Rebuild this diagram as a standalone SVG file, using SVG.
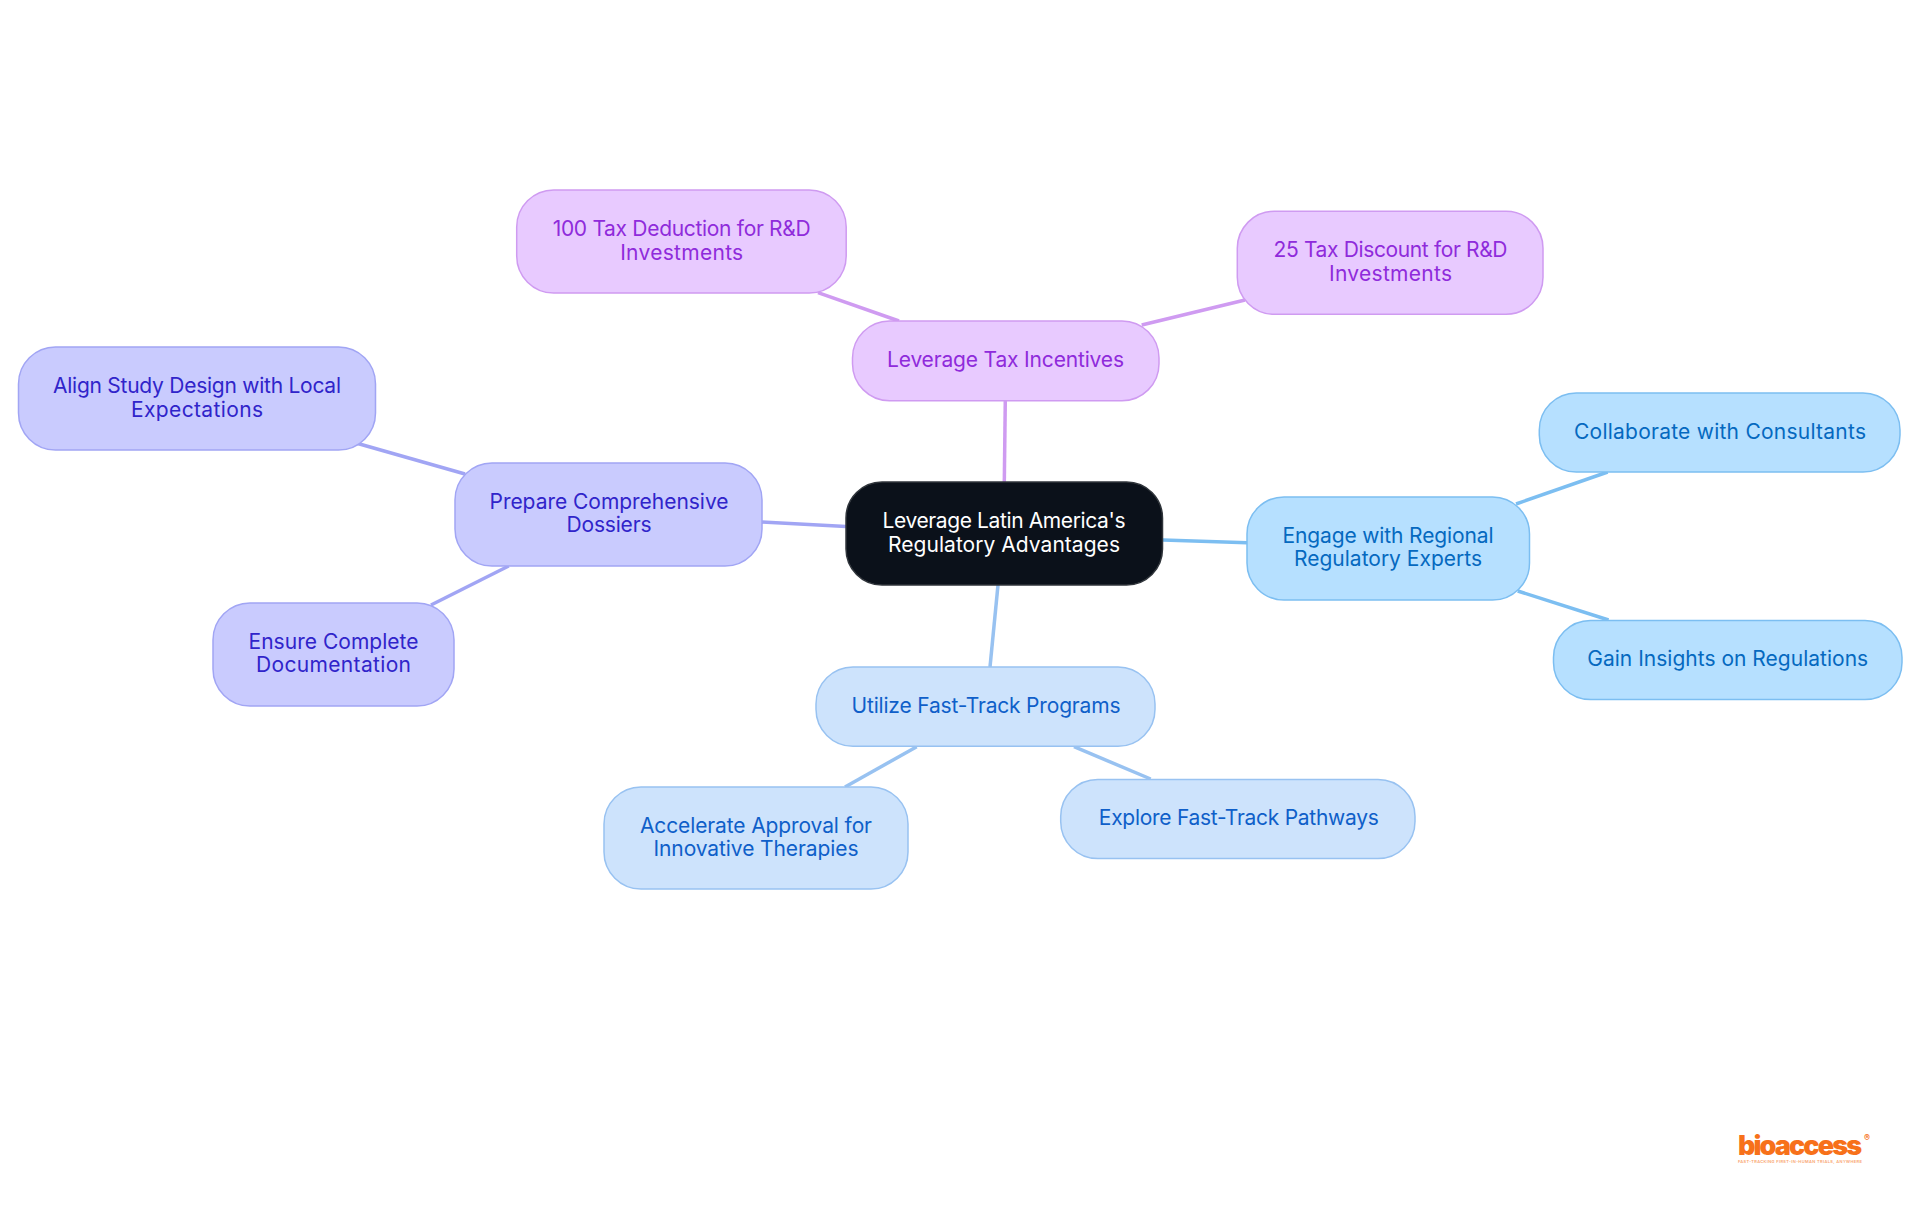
<svg xmlns="http://www.w3.org/2000/svg" width="1920" height="1215" viewBox="0 0 1920 1215">
<style>
text{font-family:"Inter","Noto Sans",sans-serif;font-size:21px;font-weight:380;text-anchor:middle}
rect{stroke-width:1.5}
#connectors line{stroke-width:3.5;fill:none}
.root rect{fill:#0b111a;stroke:#30353b}.root text{fill:#fff}
.tax rect{fill:#e8caff;stroke:#cf9bf1}.tax text{fill:#8f2bdb}
.dos rect{fill:#c9cbfe;stroke:#a1a5f4}.dos text{fill:#3024ca}
.eng rect{fill:#b6e0ff;stroke:#7cbef1}.eng text{fill:#0569bf}
.fast rect{fill:#cde3fc;stroke:#98c2f1}.fast text{fill:#0f5fc9}
.ltax{stroke:#cf9bf1}.ldos{stroke:#a1a5f4}.leng{stroke:#7cbef1}.lfast{stroke:#98c2f1}
</style>
<rect width="1920" height="1215" fill="#fff" stroke="none"/>
<g id="connectors">
<line class="ltax" x1="1005.3" y1="400" x2="1004.3" y2="482"/>
<line class="ldos" x1="846" y1="526.5" x2="762" y2="522"/>
<line class="leng" x1="1163" y1="540" x2="1247" y2="542.7"/>
<line class="lfast" x1="998" y1="585" x2="990" y2="667"/>
<line class="ltax" x1="818" y1="292.7" x2="899" y2="321"/>
<line class="ltax" x1="1141.7" y1="325" x2="1245" y2="300"/>
<line class="ldos" x1="356" y1="443" x2="465" y2="474"/>
<line class="ldos" x1="508.7" y1="566" x2="431" y2="605"/>
<line class="leng" x1="1516" y1="504" x2="1607.7" y2="472"/>
<line class="leng" x1="1517.7" y1="591" x2="1608.6" y2="620"/>
<line class="lfast" x1="916.7" y1="746.7" x2="845" y2="787"/>
<line class="lfast" x1="1074" y1="746.7" x2="1150.7" y2="779"/>
</g>
<g id="root" class="root"><rect x="846" y="482" width="316.5" height="103" rx="36"/>
<text x="1004" y="527.7" textLength="243">Leverage Latin America's</text>
<text x="1004" y="551.7" textLength="232">Regulatory Advantages</text></g>
<g id="tax-incentives" class="tax"><rect x="852.5" y="321" width="306.5" height="79.7" rx="37"/>
<text x="1005.5" y="367" textLength="237">Leverage Tax Incentives</text></g>
<g id="tax-deduction" class="tax"><rect x="516.7" y="190" width="329.5" height="103" rx="37"/>
<text x="681.7" y="235.7" textLength="258">100 Tax Deduction for R&amp;D</text>
<text x="681.7" y="260" textLength="123">Investments</text></g>
<g id="tax-discount" class="tax"><rect x="1237.3" y="211.3" width="305.7" height="103" rx="37"/>
<text x="1390.5" y="257" textLength="234">25 Tax Discount for R&amp;D</text>
<text x="1390.5" y="281" textLength="123">Investments</text></g>
<g id="dossiers" class="dos"><rect x="455" y="463" width="307" height="103" rx="37"/>
<text x="609" y="509" textLength="239">Prepare Comprehensive</text>
<text x="609" y="532" textLength="85">Dossiers</text></g>
<g id="align-study" class="dos"><rect x="18.5" y="347" width="357" height="103" rx="37"/>
<text x="197" y="393" textLength="288">Align Study Design with Local</text>
<text x="197" y="417" textLength="132">Expectations</text></g>
<g id="documentation" class="dos"><rect x="213" y="603" width="241" height="103" rx="37"/>
<text x="333.5" y="649" textLength="170">Ensure Complete</text>
<text x="333.5" y="672" textLength="155">Documentation</text></g>
<g id="regional-experts" class="eng"><rect x="1247" y="497" width="282.5" height="103" rx="37"/>
<text x="1388" y="543" textLength="211">Engage with Regional</text>
<text x="1388" y="566" textLength="188">Regulatory Experts</text></g>
<g id="consultants" class="eng"><rect x="1539.3" y="393" width="360.7" height="79" rx="37"/>
<text x="1720" y="439" textLength="292">Collaborate with Consultants</text></g>
<g id="insights" class="eng"><rect x="1553.5" y="620.5" width="348.5" height="79" rx="37"/>
<text x="1727.7" y="666" textLength="281">Gain Insights on Regulations</text></g>
<g id="fast-track" class="fast"><rect x="816" y="667" width="339" height="79.3" rx="37"/>
<text x="986" y="713" textLength="269">Utilize Fast-Track Programs</text></g>
<g id="accelerate" class="fast"><rect x="604" y="787" width="304" height="102" rx="37"/>
<text x="756" y="832.7" textLength="232">Accelerate Approval for</text>
<text x="756" y="856" textLength="205">Innovative Therapies</text></g>
<g id="pathways" class="fast"><rect x="1060.7" y="779.5" width="354.3" height="79" rx="37"/>
<text x="1238.8" y="825" textLength="280">Explore Fast-Track Pathways</text></g>
<g id="logo">
<text x="1800" y="1155" textLength="124" style="font-size:27px;font-weight:900;fill:#f7711a">bioaccess</text>
<text x="1867" y="1141" style="font-size:9px;font-weight:700;fill:#f7711a">®</text>
<text x="1800" y="1163" textLength="124" style="font-size:4px;font-weight:600;fill:#f9a56f">FAST-TRACKING FIRST-IN-HUMAN TRIALS, ANYWHERE</text>
</g>
</svg>
